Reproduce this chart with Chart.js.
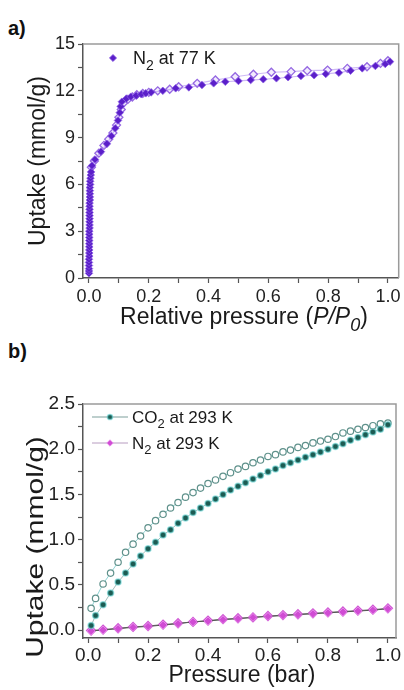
<!DOCTYPE html>
<html>
<head>
<meta charset="utf-8">
<script src="https://cdn.jsdelivr.net/npm/chart.js@4.4.1/dist/chart.umd.min.js"></script>
<style>
html, body { margin: 0; padding: 0; background: #fff; }
body { width: 404px; height: 690px; position: relative; overflow: hidden; font-family: "Liberation Sans", Arial, sans-serif; }
.tag { position: absolute; left: 8px; font-weight: bold; font-size: 20px; line-height: 20px; color: #111; }
#wrapA { position: absolute; left: 0; top: 0; width: 404px; height: 335px; }
#wrapB { position: absolute; left: 0; top: 335px; width: 404px; height: 355px; }
</style>
</head>
<body>
<div class="tag" style="top:18px">a)</div>
<div class="tag" style="top:341px">b)</div>
<div id="wrapA"><canvas id="chartA"></canvas></div>
<div id="wrapB"><canvas id="chartB"></canvas></div>
<script>
// a) N2 isotherm at 77 K - adsorption (filled) and desorption (open)
const n2_77_adsP = [
  0.000, 0.000, 0.000, 0.000, 0.000, 0.000, 0.001, 0.001, 0.001, 0.001, 0.001, 0.001,
  0.001, 0.001, 0.001, 0.002, 0.002, 0.002, 0.002, 0.002, 0.002, 0.002, 0.002, 0.002,
  0.003, 0.003, 0.003, 0.003, 0.003, 0.004, 0.004, 0.005, 0.006, 0.007,
  0.010, 0.020, 0.040, 0.060, 0.075, 0.088, 0.097, 0.103, 0.106, 0.110,
  0.125, 0.140, 0.158, 0.175, 0.190, 0.208, 0.247, 0.290,
  0.334, 0.378, 0.417, 0.456, 0.500, 0.541, 0.583, 0.627, 0.666, 0.709, 0.753, 0.792,
  0.836, 0.875, 0.914, 0.958, 0.991, 1.007
];
const n2_77_adsUptake = [
  0.3, 0.45, 0.6, 0.8, 1.0, 1.2, 1.4, 1.6, 1.8, 2.0, 2.2, 2.4,
  2.6, 2.8, 3.0, 3.2, 3.4, 3.6, 3.8, 4.0, 4.2, 4.4, 4.6, 4.8,
  5.0, 5.2, 5.4, 5.6, 5.8, 6.0, 6.2, 6.4, 6.6, 6.8,
  7.2, 7.6, 8.1, 8.6, 9.1, 9.6, 10.1, 10.6, 11.0, 11.3,
  11.5, 11.62, 11.69, 11.78, 11.84, 11.9, 12.0, 12.16,
  12.22, 12.37, 12.48, 12.58, 12.63, 12.69, 12.74, 12.8, 12.87, 12.95, 13.0, 13.08,
  13.16, 13.29, 13.44, 13.59, 13.72, 13.87
];
const n2_77_desP = [
  1.000, 0.975, 0.930, 0.864, 0.798, 0.730, 0.676, 0.610, 0.550, 0.489,
  0.423, 0.362, 0.300, 0.270, 0.230, 0.200, 0.180, 0.160, 0.145, 0.130,
  0.115, 0.108, 0.100, 0.092, 0.080, 0.066, 0.050, 0.033, 0.018, 0.008
];
const n2_77_desUptake = [
  13.93, 13.76, 13.54, 13.44, 13.33, 13.29, 13.23, 13.19, 13.06, 12.9,
  12.69, 12.48, 12.26, 12.1, 12.0, 11.9, 11.83, 11.75, 11.6, 11.45,
  11.2, 10.8, 10.3, 9.8, 9.3, 8.9, 8.5, 8.0, 7.5, 7.1
];

// b) CO2 and N2 at 293 K
const co2P = [
  0.01, 0.025, 0.05, 0.075, 0.1, 0.125, 0.15, 0.175, 0.2, 0.225, 0.25, 0.275, 0.3,
  0.325, 0.35, 0.375, 0.4, 0.425, 0.45, 0.475, 0.5, 0.525, 0.55,
  0.575, 0.6, 0.625, 0.65, 0.675, 0.7, 0.725, 0.75, 0.775, 0.8,
  0.825, 0.85, 0.875, 0.9, 0.925, 0.95, 0.975, 1.0
];
const co2Ads = [
  0.05, 0.16, 0.28, 0.41, 0.53, 0.63, 0.73, 0.82, 0.90, 0.97, 1.05, 1.11, 1.18,
  1.24, 1.30, 1.35, 1.40, 1.45, 1.50, 1.55, 1.59, 1.63, 1.67,
  1.71, 1.75, 1.78, 1.82, 1.85, 1.88, 1.91, 1.94, 1.97, 2.00,
  2.03, 2.06, 2.10, 2.13, 2.16, 2.19, 2.22, 2.27
];
const co2Des = [
  0.24, 0.35, 0.51, 0.63, 0.75, 0.86, 0.95, 1.04, 1.13, 1.21, 1.28, 1.35, 1.41,
  1.47, 1.52, 1.57, 1.62, 1.66, 1.70, 1.74, 1.78, 1.81, 1.85,
  1.88, 1.92, 1.94, 1.97, 1.99, 2.02, 2.04, 2.07, 2.09, 2.11,
  2.14, 2.18, 2.20, 2.22, 2.24, 2.26, 2.28, 2.29
];
const n2P = [0.01, 0.05, 0.1, 0.15, 0.2, 0.25, 0.3, 0.35, 0.4, 0.45, 0.5,
             0.55, 0.6, 0.65, 0.7, 0.75, 0.8, 0.85, 0.9, 0.95, 1.0];
const n2Ads = [-0.01, 0.0, 0.015, 0.03, 0.04, 0.055, 0.07, 0.09, 0.1, 0.115, 0.125,
               0.14, 0.15, 0.16, 0.17, 0.18, 0.19, 0.2, 0.21, 0.22, 0.235];
const n2Des = [-0.005, 0.005, 0.02, 0.035, 0.045, 0.06, 0.075, 0.09, 0.105, 0.12, 0.13,
               0.14, 0.155, 0.165, 0.175, 0.185, 0.195, 0.205, 0.215, 0.225, 0.24];

const FONT = '"Liberation Sans", Arial, sans-serif';
Chart.defaults.font.family = FONT;
Chart.defaults.color = '#222';

function toPts(xs, ys) {
  return xs.map((x, i) => ({ x: x, y: ys[i] }));
}

// text made of pieces: [text, flags] with 'i' = italic, 's' = subscript
function drawRich(ctx, parts, x, y, size, opt) {
  opt = opt || {};
  ctx.save();
  ctx.translate(x, y);
  if (opt.rot) ctx.rotate(opt.rot);
  if (opt.sx) ctx.scale(opt.sx, 1);
  ctx.fillStyle = '#1a1a1a';
  ctx.textBaseline = 'alphabetic';
  ctx.textAlign = 'left';
  const fontOf = f => (f.includes('i') ? 'italic ' : '') + Math.round(f.includes('s') ? size * 0.78 : size) + 'px ' + FONT;
  let total = 0;
  const widths = parts.map(p => {
    ctx.font = fontOf(p[1] || '');
    const w = ctx.measureText(p[0]).width;
    total += w;
    return w;
  });
  let cx = opt.left ? 0 : -total / 2;
  parts.forEach((p, i) => {
    const f = p[1] || '';
    ctx.font = fontOf(f);
    ctx.fillText(p[0], cx, f.includes('s') ? size * 0.3 : 0);
    cx += widths[i];
  });
  ctx.restore();
}

function marker(ctx, style, x, y, r) {
  ctx.beginPath();
  if (style === 'rectRot') {
    ctx.moveTo(x, y - r); ctx.lineTo(x + r, y); ctx.lineTo(x, y + r); ctx.lineTo(x - r, y);
    ctx.closePath();
  } else {
    ctx.arc(x, y, r, 0, Math.PI * 2);
  }
  ctx.fill();
  ctx.stroke();
}

// frame on top/right, axis titles and the in-plot legend
function makeDeco(cfg) {
  return {
    id: 'deco',
    afterDraw(chart) {
      const ctx = chart.ctx, a = chart.chartArea;
      ctx.save();
      ctx.strokeStyle = '#9a9a9a';
      ctx.lineWidth = 1.5;
      ctx.beginPath();
      ctx.moveTo(a.left, a.top); ctx.lineTo(a.right, a.top); ctx.lineTo(a.right, a.bottom);
      ctx.stroke();
      ctx.restore();

      cfg.titles.forEach(t => drawRich(ctx, t.parts, t.x, t.y, t.size, { rot: t.rot, sx: t.sx }));

      cfg.legend.forEach(item => {
        const ds = chart.data.datasets[item.ds];
        ctx.save();
        if (item.line) {
          ctx.strokeStyle = item.lineColor;
          ctx.lineWidth = 1;
          ctx.beginPath();
          ctx.moveTo(item.line[0], item.y); ctx.lineTo(item.line[1], item.y);
          ctx.stroke();
        }
        ctx.fillStyle = ds.pointBackgroundColor;
        ctx.strokeStyle = ds.pointBorderColor;
        ctx.lineWidth = ds.pointBorderWidth;
        marker(ctx, ds.pointStyle, item.x, item.y, item.r);
        ctx.restore();
        drawRich(ctx, item.parts, item.tx, item.y + item.size * 0.36, item.size, { left: true });
      });
    }
  };
}

function tickGrid() {
  return { drawOnChartArea: false, drawTicks: true, tickLength: 5, color: '#555', tickWidth: 1.2 };
}

// ---------- a) ----------
new Chart(document.getElementById('chartA'), {
  type: 'scatter',
  data: {
    datasets: [{
      label: 'N2 at 77 K',
      data: toPts(n2_77_adsP, n2_77_adsUptake),
      pointStyle: 'rectRot',
      pointRadius: 3.8,
      pointBackgroundColor: '#5b1fc9',
      pointBorderColor: 'rgba(140,95,230,0.75)',
      pointBorderWidth: 1,
      showLine: true,
      borderColor: 'rgba(165,125,238,0.55)',
      borderWidth: 1.2
    }, {
      label: 'N2 at 77 K desorption',
      data: toPts(n2_77_desP, n2_77_desUptake),
      pointStyle: 'rectRot',
      pointRadius: 4,
      pointBackgroundColor: '#f3ecfe',
      pointBorderColor: '#9568e2',
      pointBorderWidth: 1.3,
      showLine: true,
      borderColor: 'rgba(175,140,240,0.6)',
      borderWidth: 1.2
    }]
  },
  options: {
    responsive: true,
    maintainAspectRatio: false,
    animation: false,
    layout: { padding: { top: 44, right: 2, left: 0, bottom: 0 } },
    plugins: { legend: { display: false }, tooltip: { enabled: false } },
    scales: {
      x: {
        type: 'linear', min: -0.02, max: 1.036,
        afterFit: s => { s.height = 57; s.paddingLeft = 0; s.paddingRight = 0; },
        ticks: {
          stepSize: 0.1, includeBounds: false, autoSkip: false, maxRotation: 0, padding: 3,
          font: { size: 18 },
          callback: v => Math.round(v * 10) % 2 === 0 ? v.toFixed(1) : ''
        },
        grid: tickGrid(),
        border: { color: '#555', width: 1.5 }
      },
      y: {
        type: 'linear', min: 0, max: 15,
        afterFit: s => { s.width = 83; s.paddingTop = 0; s.paddingBottom = 0; },
        ticks: {
          stepSize: 1.5, includeBounds: false, autoSkip: false, padding: 3,
          font: { size: 18 },
          callback: v => Math.round(v / 1.5) % 2 === 0 ? String(Math.round(v)) : ''
        },
        grid: tickGrid(),
        border: { color: '#555', width: 1.5 }
      }
    }
  },
  plugins: [makeDeco({
    titles: [
      { parts: [['Uptake (mmol/g)']], x: 45, y: 161, size: 23, rot: -Math.PI / 2 },
      { parts: [['Relative pressure ('], ['P/P', 'i'], ['0', 'is'], [')']], x: 244, y: 324, size: 23 }
    ],
    legend: [
      { ds: 0, x: 113, y: 58, r: 3.6, tx: 133, size: 18, parts: [['N'], ['2', 's'], [' at 77 K']] }
    ]
  })]
});

// ---------- b) ----------
new Chart(document.getElementById('chartB'), {
  type: 'scatter',
  data: {
    datasets: [{
      label: 'CO2 at 293 K',
      data: toPts(co2P, co2Ads),
      pointStyle: 'circle',
      pointRadius: 3,
      pointBackgroundColor: '#1c5b52',
      pointBorderColor: 'rgba(110,215,215,0.6)',
      pointBorderWidth: 1.5,
      showLine: true,
      borderColor: 'rgba(120,160,155,0.7)',
      borderWidth: 1
    }, {
      label: 'CO2 at 293 K desorption',
      data: toPts(co2P, co2Des),
      pointStyle: 'circle',
      pointRadius: 3.2,
      pointBackgroundColor: '#ffffff',
      pointBorderColor: '#5f918b',
      pointBorderWidth: 1.2,
      showLine: true,
      borderColor: 'rgba(130,205,205,0.9)',
      borderWidth: 1
    }, {
      label: 'N2 at 293 K',
      data: toPts(n2P, n2Ads),
      pointStyle: 'rectRot',
      pointRadius: 4,
      pointBackgroundColor: '#d04cd4',
      pointBorderColor: 'rgba(232,140,236,0.8)',
      pointBorderWidth: 1,
      showLine: true,
      borderColor: '#555',
      borderWidth: 1
    }, {
      label: 'N2 at 293 K desorption',
      data: toPts(n2P, n2Des),
      pointStyle: 'rectRot',
      pointRadius: 4.5,
      pointBackgroundColor: 'rgba(246,206,246,0.6)',
      pointBorderColor: '#cf56d3',
      pointBorderWidth: 1.3,
      showLine: true,
      borderColor: '#666',
      borderWidth: 1
    }]
  },
  options: {
    responsive: true,
    maintainAspectRatio: false,
    animation: false,
    layout: { padding: { top: 69, right: 8, left: 0, bottom: 0 } },
    plugins: { legend: { display: false }, tooltip: { enabled: false } },
    scales: {
      x: {
        type: 'linear', min: -0.017, max: 1.027,
        afterFit: s => { s.height = 52; s.paddingLeft = 0; s.paddingRight = 0; },
        ticks: {
          stepSize: 0.1, includeBounds: false, autoSkip: false, maxRotation: 0, padding: 1,
          font: { size: 19 },
          callback: v => Math.round(v * 10) % 2 === 0 ? v.toFixed(1) : ''
        },
        grid: tickGrid(),
        border: { color: '#555', width: 1.5 }
      },
      y: {
        type: 'linear', min: -0.088, max: 2.5,
        afterFit: s => { s.width = 83; s.paddingTop = 0; s.paddingBottom = 0; },
        ticks: {
          stepSize: 0.25, includeBounds: false, autoSkip: false, padding: 3,
          font: { size: 19 },
          callback: v => Math.round(v * 4) % 2 === 0 ? Math.abs(v).toFixed(1) : ''
        },
        grid: tickGrid(),
        border: { color: '#555', width: 1.5 }
      }
    }
  },
  plugins: [makeDeco({
    titles: [
      { parts: [['Uptake (mmol/g)']], x: 43, y: 212, size: 24, rot: -Math.PI / 2, sx: 1.25 },
      { parts: [['Pressure (bar)']], x: 242, y: 347, size: 23 }
    ],
    legend: [
      { ds: 0, x: 110, y: 82, r: 2.6, line: [92, 128], lineColor: '#7d9f9b', tx: 132, size: 17,
        parts: [['CO'], ['2', 's'], [' at 293 K']] },
      { ds: 2, x: 110, y: 108, r: 3.2, line: [92, 128], lineColor: '#b79cc0', tx: 132, size: 17,
        parts: [['N'], ['2', 's'], [' at 293 K']] }
    ]
  })]
});
</script>
</body>
</html>
